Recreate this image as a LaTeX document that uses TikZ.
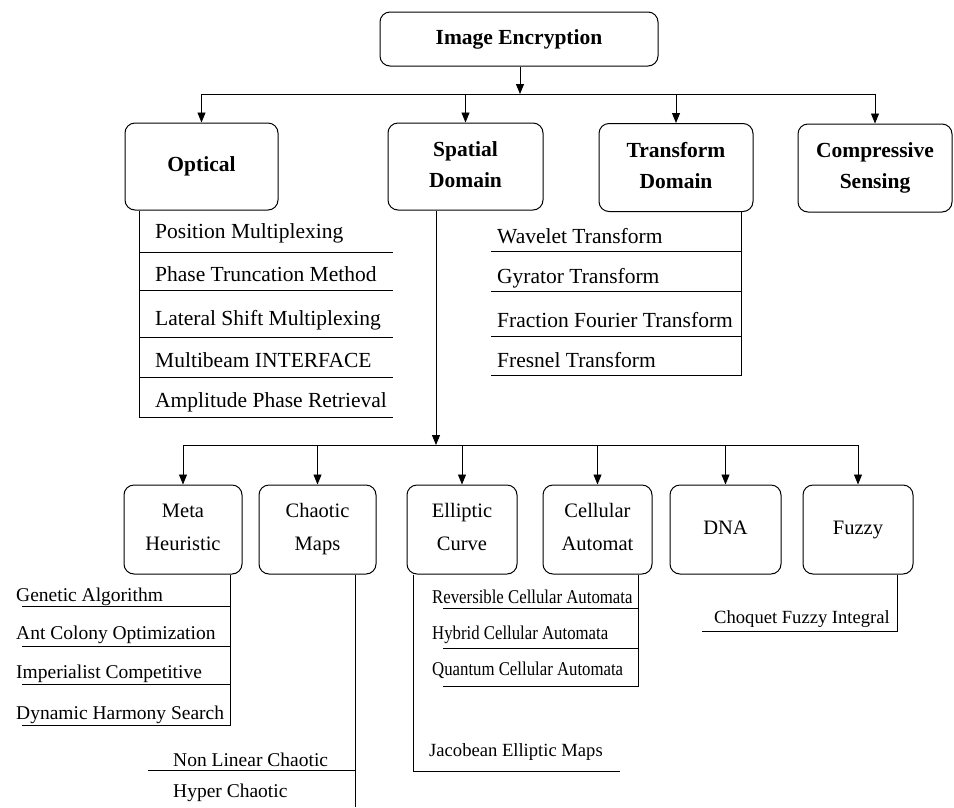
\documentclass[tikz,border=0pt]{standalone}
\usepackage{fontspec}
\setmainfont{Liberation Serif}
\usetikzlibrary{arrows.meta}
\newcommand{\mystrut}{\vphantom{Ay}}
\begin{document}
\begin{tikzpicture}[x=1pt,y=-1pt,
  box/.style={draw, rounded corners=10pt, line width=1pt, align=center, inner sep=2pt},
  topbox/.style={box, font=\fontsize{21.5}{31}\selectfont\bfseries},
  botbox/.style={box, font=\fontsize{20.5}{33}\selectfont, minimum height=89pt},
  ln/.style={line width=0.9pt},
  arr/.style={ln, -{Triangle[length=10pt,width=8pt]}},
  item/.style={anchor=base west, inner sep=0pt, font=\fontsize{21.5}{25}\selectfont},
  itemb/.style={anchor=base west, inner sep=0pt, font=\fontsize{19.5}{23}\selectfont},
  itemc/.style={anchor=base west, inner sep=0pt, font=\fontsize{18.6}{22}\selectfont}
]
\useasboundingbox (0,0) rectangle (954,807);

% top level
\node[topbox, minimum width=278pt, minimum height=54pt] (enc) at (519,39) {Image Encryption\mystrut};
\node[topbox, minimum width=153pt, minimum height=87pt] (opt) at (201.5,166.5) {Optical\mystrut};
\node[topbox, minimum width=155pt, minimum height=87pt] (spa) at (465.5,166.5) {Spatial\mystrut\\Domain\mystrut};
\node[topbox, minimum width=154pt, minimum height=88pt] (tra) at (676,167.5) {Transform\mystrut\\Domain\mystrut};
\node[topbox, minimum width=154pt, minimum height=88pt] (com) at (875,168) {Compressive\mystrut\\Sensing\mystrut};

\coordinate (j1) at (520,94);
\draw[arr] (enc.south -| j1) -- (j1);
\draw[ln] (opt.north |- j1) -- (com.north |- j1);
\foreach \n in {opt,spa,tra,com} \draw[arr] (\n.north |- j1) -- (\n.north);

% optical list
\coordinate (oL) at (139,417);
\coordinate (oR) at (393,417);
\draw[ln] (opt.south -| oL) -- (oL) -- (oR);
\foreach \y in {252,290,337,377} \draw[ln] (139,\y) -- (393,\y);
\node[item] (o1) at (155,238) {Position Multiplexing};
\node[item] (o2) at (155,281) {Phase Truncation Method};
\node[item] (o3) at (155,325) {Lateral Shift Multiplexing};
\node[item] (o4) at (155,367) {Multibeam INTERFACE};
\node[item] (o5) at (155,407) {Amplitude Phase Retrieval};

% transform list
\coordinate (tL) at (491,375);
\coordinate (tR) at (741,375);
\draw[ln] (tra.south -| tR) -- (tR) -- (tL);
\foreach \y in {251,291,336} \draw[ln] (491,\y) -- (741,\y);
\node[item] (t1) at (497,243) {Wavelet Transform};
\node[item] (t2) at (497,283) {Gyrator Transform};
\node[item] (t3) at (497,327) {Fraction Fourier Transform};
\node[item] (t4) at (497,367) {Fresnel Transform};

% spatial domain children
\node[botbox, minimum width=118pt] (meta) at (183,529.5) {Meta\mystrut\\Heuristic\mystrut};
\node[botbox, minimum width=117pt] (chao) at (317.5,529.5) {Chaotic\mystrut\\Maps\mystrut};
\node[botbox, minimum width=110pt] (ell) at (462,529.5) {Elliptic\mystrut\\Curve\mystrut};
\node[botbox, minimum width=109pt] (cel) at (597.5,529.5) {Cellular\mystrut\\Automat\mystrut};
\node[botbox, minimum width=111pt] (dna) at (725.5,529.5) {DNA\mystrut};
\node[botbox, minimum width=110pt] (fuz) at (858,529.5) {Fuzzy\mystrut};

\coordinate (j2) at (436,445);
\draw[arr] (spa.south -| j2) -- (j2);
\draw[ln] (meta.north |- j2) -- (fuz.north |- j2);
\foreach \n in {meta,chao,ell,cel,dna,fuz} \draw[arr] (\n.north |- j2) -- (\n.north);

% meta heuristic list
\coordinate (mR) at (230,725);
\coordinate (mL) at (22,725);
\draw[ln] (meta.south -| mR) -- (mR) -- (mL);
\foreach \y in {606,646,684} \draw[ln] (22,\y) -- (230,\y);
\node[itemb] (m1) at (16,601) {Genetic Algorithm};
\node[itemb] (m2) at (16,639) {Ant Colony Optimization};
\node[itemb] (m3) at (16,678) {Imperialist Competitive};
\node[itemb] (m4) at (16,719) {Dynamic Harmony Search};

% chaotic maps list
\coordinate (cB) at (355,807);
\coordinate (cM) at (355,770);
\coordinate (cL) at (148,770);
\draw[ln] (chao.south -| cB) -- (cB);
\draw[ln] (cM) -- (cL);
\node[itemb] (c1) at (173,766) {Non Linear Chaotic};
\node[itemb] (c2) at (173,797) {Hyper Chaotic};

% elliptic curve list
\coordinate (eB) at (413,771);
\coordinate (eR) at (620,771);
\draw[ln] (ell.south -| eB) -- (eB) -- (eR);
\node[itemc] (e1) at (429,756) {Jacobean Elliptic Maps};

% cellular automata list
\coordinate (aR) at (638,686);
\coordinate (aL) at (443,686);
\draw[ln] (cel.south -| aR) -- (aR) -- (aL);
\foreach \y in {608,648} \draw[ln] (443,\y) -- (638,\y);
\node[itemb] (a1) at (432,603) {\scalebox{0.86}[1]{Reversible Cellular Automata}};
\node[itemb] (a2) at (432,639) {\scalebox{0.86}[1]{Hybrid Cellular Automata}};
\node[itemb] (a3) at (432,675) {\scalebox{0.86}[1]{Quantum Cellular Automata}};

% fuzzy list
\coordinate (fB) at (897,631);
\coordinate (fL) at (702,631);
\draw[ln] (fuz.south -| fB) -- (fB) -- (fL);
\node[itemc] (f1) at (714,623) {Choquet Fuzzy Integral};
\end{tikzpicture}
\end{document}
